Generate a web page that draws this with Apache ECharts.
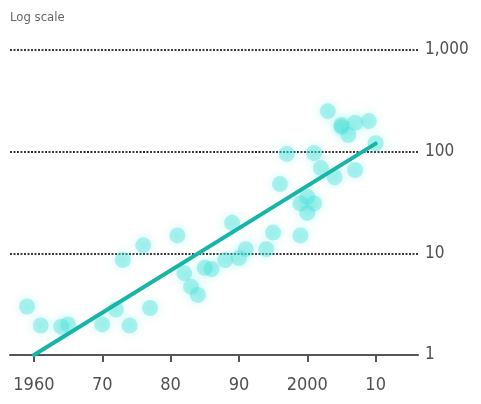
<!DOCTYPE html>
<html>
<head>
<meta charset="utf-8">
<script src="https://cdn.jsdelivr.net/npm/echarts@6/dist/echarts.min.js"></script>
<style>
  html, body { margin: 0; padding: 0; background: #fff; }
  #chart { width: 481px; height: 404px; }
</style>
</head>
<body>
<div id="chart"></div>
<script>
// Yearly observations (log scale)
const years = [1959, 1961, 1964, 1965, 1970, 1972, 1973, 1974, 1976, 1977,
  1981, 1982, 1983, 1984, 1985, 1986, 1988, 1989, 1990, 1991,
  1994, 1995, 1996, 1997, 1999, 1999, 2000, 2000, 2001, 2001,
  2002, 2003, 2004, 2005, 2005, 2006, 2007, 2007, 2009, 2010];
const values = [3.0, 1.95, 1.9, 2.0, 2.0, 2.8, 8.6, 1.95, 12, 2.9,
  15, 6.4, 4.7, 3.9, 7.2, 7.0, 8.6, 20, 9, 11,
  11, 16, 48, 95, 15, 31, 25, 36, 97, 31,
  69, 250, 56, 175, 183, 146, 192, 66, 200, 121];

// Fitted trend
const trendYears = [1960, 2010];
const trendValues = [1, 120];

// Axis ticks
const xTicks = [1960, 1970, 1980, 1990, 2000, 2010];
const xTickLabels = ['1960', '70', '80', '90', '2000', '10'];
const yTicks = [1, 10, 100, 1000];
const yTickLabels = ['1', '10', '100', '1,000'];

const FONT = "'Liberation Sans Narrow', 'DejaVu Sans Condensed', 'Open Sans', sans-serif";

const chart = echarts.init(document.getElementById('chart'));
chart.setOption({
  animation: false,
  backgroundColor: '#ffffff',
  graphic: [{
    type: 'text', left: 10, top: 11,
    style: { text: 'Log scale', fill: '#666', font: "13px " + FONT }
  }],
  grid: { left: 10, right: 63, top: 50, bottom: 49, containLabel: false },
  xAxis: {
    type: 'value', min: 1956.5, max: 2016.2,
    axisLine: { show: true, lineStyle: { color: '#555', width: 2 } },
    axisTick: { show: true, length: 7, inside: false, customValues: xTicks,
      lineStyle: { color: '#555', width: 2 } },
    axisLabel: {
      customValues: xTicks, margin: 21,
      color: '#505050', fontSize: 18, fontFamily: FONT,
      formatter: v => xTickLabels[xTicks.indexOf(Math.round(v))] || ''
    },
    splitLine: { show: false }
  },
  yAxis: {
    type: 'log', logBase: 10, min: 1, max: 1000, position: 'right',
    axisLine: { show: false },
    axisTick: { show: false },
    axisLabel: {
      margin: 7, color: '#505050', fontSize: 17, fontFamily: FONT,
      formatter: v => yTickLabels[yTicks.indexOf(Math.round(v))] || ''
    },
    splitLine: { show: true, lineStyle: { color: '#3a3a3a', width: 2, type: [2, 1.5] } }
  },
  series: [
    {
      type: 'scatter',
      data: years.map((y, i) => [y, values[i]]),
      symbolSize: 16,
      itemStyle: {
        color: 'rgba(72, 226, 218, 0.5)',
        shadowBlur: 10,
        shadowColor: 'rgba(72, 226, 218, 0.7)'
      },
      z: 2
    },
    {
      type: 'line',
      data: trendYears.map((y, i) => [y, trendValues[i]]),
      symbol: 'none',
      lineStyle: { color: '#17b5a5', width: 4, cap: 'round' },
      z: 3
    }
  ]
});
</script>
</body>
</html>
